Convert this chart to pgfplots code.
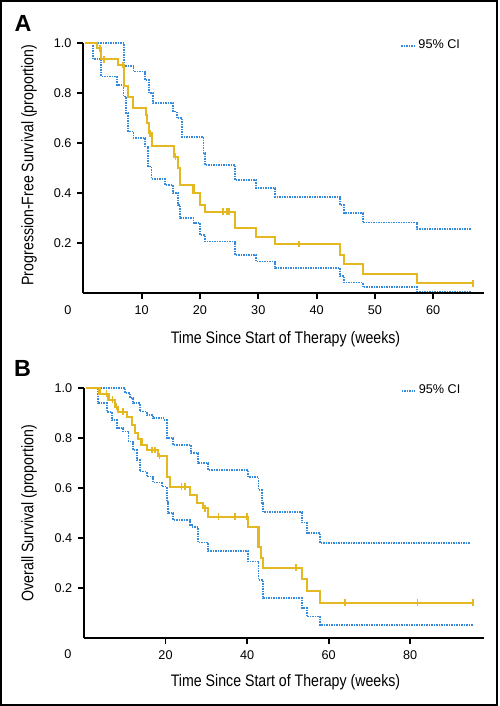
\documentclass[border=0pt]{standalone}
\usepackage{pgfplots}
\pgfplotsset{compat=1.18}
\usepackage{fontspec}
\setmainfont{Liberation Sans}
\newfontfamily\condfont[FakeStretch=0.85]{Liberation Sans}
\definecolor{kmyellow}{RGB}{228,184,32}
\definecolor{ciblue}{RGB}{52,138,220}
\pgfplotsset{
 kmbase/.style={
  scale only axis, clip=false,
  axis x line=bottom, axis y line=left,
  axis line style={-, line width=1.2pt, black},
  ymin=0, ymax=1, xmin=0,
  ytick={0.2,0.4,0.6,0.8,1.0},
  yticklabel style={/pgf/number format/fixed, /pgf/number format/fixed zerofill, /pgf/number format/precision=1},
  tick align=outside, major tick length=3.6pt,
  tick style={line width=1.1pt, black},
  tick label style={font=\fontsize{7.6}{8}\selectfont},
  /pgf/number format/assume math mode=true,
  legend style={draw=none, fill=none, inner sep=0pt, font=\fontsize{7.6}{8}\selectfont, anchor=west},
  legend image code/.code={\draw[#1] (0pt,0pt) -- (7.8pt,0pt);},
 },
 km/.style={kmyellow, line width=1.25pt, const plot},
 ci/.style={ciblue, line width=1.1pt, dash pattern=on 0.9pt off 0.6pt, const plot},
 cens/.style={kmyellow, only marks, mark=|, mark size=2pt, mark options={line width=1pt, solid}},
}
\begin{document}
\begin{tikzpicture}
\useasboundingbox (0,0) rectangle (300pt,423.6pt);
\draw[line width=1.2pt] (0.6pt,0.9pt) rectangle (298.2pt,423pt);
% Panel A
\begin{axis}[kmbase, at={(49.98pt,247.62pt)}, anchor=south west,
  width=240.4pt, height=150pt, xmax=68.7,
  xtick={10,20,30,40,50,60},
  legend style={at={(axis cs:54.3,0.99)}}]
\addplot[ci, forget plot] coordinates {(0.3,1)(7.0,0.91)(8.6,0.887)(10.6,0.853)(11.3,0.80)(12.0,0.76)(15.4,0.727)(16.0,0.70)(16.9,0.624)(20.6,0.56)(20.9,0.513)(26.0,0.453)(29.6,0.42)(32.9,0.386)(44.0,0.353)(44.7,0.32)(47.9,0.283)(57.2,0.256)(66.4,0.256)};
\addplot[ci] coordinates {(0.3,1)(1.7,0.936)(3.1,0.867)(5.8,0.833)(6.9,0.787)(7.3,0.72)(7.7,0.647)(8.6,0.62)(10.6,0.587)(11.1,0.507)(11.7,0.456)(14.0,0.433)(15.4,0.40)(16.3,0.353)(16.6,0.30)(18.9,0.28)(20.0,0.233)(20.9,0.207)(26.0,0.153)(29.6,0.127)(32.9,0.10)(44.0,0.069)(44.7,0.043)(47.9,0.024)(57.2,0.007)(66.4,0.007)};
\addlegendentry{95\% CI}
\addplot[km, forget plot] coordinates {(0.3,1)(2.3,0.98)(3.1,0.936)(6.0,0.913)(7.0,0.83)(7.6,0.787)(8.6,0.74)(10.7,0.713)(11.0,0.68)(11.3,0.64)(11.8,0.59)(15.5,0.547)(16.3,0.50)(16.6,0.433)(18.9,0.40)(20.0,0.353)(20.9,0.326)(26.0,0.26)(29.6,0.226)(32.9,0.197)(44.0,0.153)(44.7,0.117)(47.9,0.077)(57.2,0.04)(66.8,0.04)};
\addplot[cens, forget plot] coordinates {(2.9,0.98)(3.5,0.936)(6.75,0.913)(11.4,0.64)(15.8,0.547)(23.9,0.326)(24.6,0.326)(25.0,0.326)(37.0,0.197)(66.8,0.04)};
\end{axis}
% Panel B
\begin{axis}[kmbase, at={(50.4pt,40.62pt)}, anchor=south west,
  width=240.2pt, height=150pt, xmax=98.2,
  xtick={20,40,60,80},
  legend style={at={(axis cs:77.6,0.99)}}]
\addplot[ci, forget plot] coordinates {(0.4,1)(10.1,0.98)(11.3,0.96)(12.1,0.94)(13.7,0.907)(15.4,0.893)(17.0,0.88)(19.5,0.873)(20.3,0.80)(21.9,0.773)(26.3,0.74)(28.0,0.70)(30.5,0.673)(40.3,0.644)(42.8,0.593)(43.6,0.54)(44.0,0.504)(53.4,0.463)(54.6,0.42)(57.9,0.38)(94.6,0.38)};
\addplot[ci] coordinates {(0.4,1)(3.5,0.94)(5.6,0.906)(6.8,0.873)(8.0,0.84)(9.6,0.827)(10.9,0.787)(12.1,0.753)(12.9,0.713)(13.7,0.667)(15.4,0.647)(17.0,0.623)(19.1,0.607)(20.3,0.547)(20.7,0.50)(21.9,0.473)(26.0,0.453)(26.4,0.444)(28.0,0.383)(30.5,0.349)(40.3,0.307)(42.8,0.233)(44.0,0.16)(53.4,0.12)(54.6,0.087)(57.9,0.053)(95.4,0.053)};
\addlegendentry{95\% CI}
\addplot[km, forget plot] coordinates {(0.4,1)(3.8,0.978)(6.0,0.955)(7.6,0.927)(8.4,0.906)(10.5,0.887)(11.7,0.853)(12.5,0.82)(13.3,0.796)(14.1,0.773)(15.4,0.753)(18.2,0.729)(20.3,0.644)(21.1,0.607)(26.0,0.573)(27.7,0.54)(29.3,0.52)(30.5,0.487)(40.3,0.447)(42.8,0.367)(43.4,0.32)(44.0,0.283)(53.4,0.236)(54.6,0.19)(57.9,0.142)(95.5,0.142)};
\addplot[cens, forget plot] coordinates {(5.5,0.978)(7.0,0.955)(8.0,0.927)(9.5,0.906)(16.6,0.753)(17.4,0.753)(18.5,0.729)(23.9,0.607)(24.7,0.607)(29.7,0.52)(33.0,0.487)(37.1,0.487)(40.0,0.487)(52.0,0.283)(64.0,0.142)(81.8,0.142)(95.5,0.142)};
\end{axis}
% corner zeros
\node[font=\fontsize{7.6}{8}\selectfont, anchor=north] at (40.8pt,243.6pt) {0};
\node[font=\fontsize{7.6}{8}\selectfont, anchor=north] at (40.8pt,37.4pt) {0};
% axis titles
\node[font=\condfont\fontsize{10}{11}\selectfont, anchor=base] at (171.3pt,217.6pt) {Time Since Start of Therapy (weeks)};
\node[font=\condfont\fontsize{10}{11}\selectfont, anchor=base] at (171.3pt,11.6pt) {Time Since Start of Therapy (weeks)};
\node[font=\condfont\fontsize{10}{11}\selectfont, rotate=90] at (17.4pt,324.6pt) {Progression-Free Survival (proportion)};
\node[font=\condfont\fontsize{10}{11}\selectfont, rotate=90] at (17.4pt,115.6pt) {Overall Survival (proportion)};
% panel letters
\node[font=\bfseries\fontsize{14}{16}\selectfont] at (13.8pt,409.5pt) {A};
\node[font=\bfseries\fontsize{14}{16}\selectfont] at (13.5pt,202.5pt) {B};
\end{tikzpicture}
\end{document}
